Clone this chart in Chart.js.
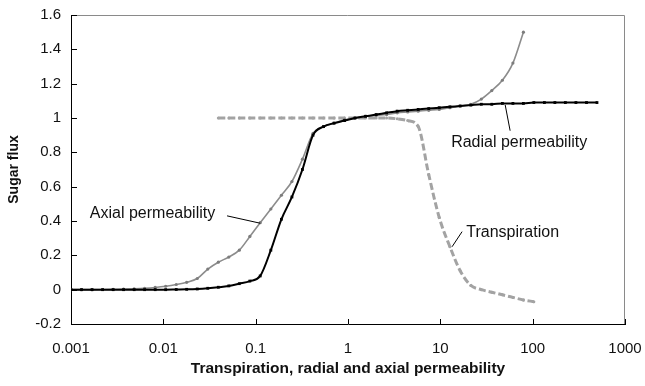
<!DOCTYPE html>
<html>
<head>
<meta charset="utf-8">
<script src="https://cdn.jsdelivr.net/npm/chart.js@4"></script>
<style>
  html, body { margin: 0; padding: 0; background: #fff; }
  #wrap { width: 645px; height: 386px; }
</style>
</head>
<body>
<div id="wrap"><canvas id="sugarChart"></canvas></div>
<script>
// eje x (escala logarítmica, pasos de ~1.3x)
const xGrid = [0.001, 0.0013, 0.00169, 0.0022, 0.00286, 0.00371, 0.00483, 0.00627, 0.00816, 0.0106,
    0.0138, 0.0179, 0.0233, 0.0303, 0.0394, 0.0512, 0.0665, 0.0865, 0.112, 0.146,
    0.19, 0.247, 0.321, 0.418, 0.543, 0.706, 0.917, 1.19, 1.55, 2.02,
    2.62, 3.41, 4.43, 5.76, 7.49, 9.73, 12.7, 16.4, 21.4, 27.8,
    36.1, 47.0, 61.1, 79.4, 103, 134, 174, 226, 294, 383, 497];

const radial = [0, 0, 0, 0, 0, 0, 0, 0, 0, 0,
    0.001, 0.002, 0.004, 0.008, 0.014, 0.022, 0.035, 0.05, 0.08, 0.23,
    0.41, 0.54, 0.70, 0.90, 0.95, 0.97, 0.985, 1.0, 1.01, 1.02,
    1.03, 1.04, 1.045, 1.05, 1.055, 1.06, 1.065, 1.07, 1.075, 1.08,
    1.08, 1.085, 1.085, 1.085, 1.09, 1.09, 1.09, 1.09, 1.09, 1.09, 1.09];

const axial = [0, 0, 0, 0.001, 0.002, 0.003, 0.005, 0.008, 0.013, 0.02,
    0.03, 0.043, 0.065, 0.12, 0.16, 0.19, 0.23, 0.31, 0.39, 0.47,
    0.55, 0.63, 0.76, 0.91, 0.95, 0.97, 0.99, 1.0, 1.01, 1.015,
    1.02, 1.03, 1.035, 1.04, 1.045, 1.05, 1.06, 1.07, 1.08, 1.11,
    1.16, 1.22, 1.32, 1.50];

const transX = [0.0394, 0.0512, 0.0665, 0.0865, 0.112, 0.146, 0.19, 0.247, 0.321, 0.418,
    0.543, 0.706, 0.917, 1.19, 1.55, 2.02, 2.62, 3.41, 4.43, 5.76,
    7.49, 9.73, 12.7, 16.4, 21.4, 27.8, 36.1, 47.0, 61.1, 79.4, 103];
const transpiration = [1, 1, 1, 1, 1, 1, 1, 1, 1, 1,
    1, 1, 1, 1, 1, 1, 1, 0.995, 0.985, 0.95,
    0.67, 0.42, 0.25, 0.11, 0.025, 0, -0.015, -0.03, -0.045, -0.06, -0.07];

const xTicks = [0.001, 0.01, 0.1, 1, 10, 100, 1000];
const xTickLabels = ["0.001", "0.01", "0.1", "1", "10", "100", "1000"];
const yTicks = [-0.2, 0, 0.2, 0.4, 0.6, 0.8, 1, 1.2, 1.4, 1.6];
const yTickLabels = ["-0.2", "0", "0.2", "0.4", "0.6", "0.8", "1", "1.2", "1.4", "1.6"];

// etiquetas de texto con su línea guía (en coordenadas de datos)
const noteTexts = ["Axial permeability", "Radial permeability", "Transpiration"];
const notePos = [[0.0016, 0.445], [13.1, 0.856], [19.1, 0.33]];
const noteLines = [
    [[0.049, 0.43], [0.112, 0.387]],
    [[50.4, 1.076], [57, 0.926]],
    [[17.2, 0.338], [13.4, 0.25]]
];

const FONT = "'Liberation Sans', Arial, sans-serif";

function pairs(xs, ys) {
    return ys.map((v, i) => ({ x: xs[i], y: v }));
}

const extras = {
    id: "extras",
    afterDraw(chart) {
        const { ctx, chartArea: a, scales: { x, y } } = chart;
        ctx.save();
        // marco superior y derecho
        ctx.strokeStyle = "#8a8a8a";
        ctx.lineWidth = 1;
        ctx.beginPath();
        ctx.moveTo(a.left, a.top + 0.5);
        ctx.lineTo(a.right - 0.5, a.top + 0.5);
        ctx.lineTo(a.right - 0.5, a.bottom);
        ctx.stroke();

        // marcas hacia dentro
        ctx.strokeStyle = "#000";
        ctx.beginPath();
        xTicks.forEach(v => {
            const px = Math.round(x.getPixelForValue(v)) + 0.5;
            ctx.moveTo(px, a.bottom);
            ctx.lineTo(px, a.bottom - 5);
        });
        yTicks.forEach(v => {
            const py = Math.round(y.getPixelForValue(v)) + 0.5;
            ctx.moveTo(a.left, py);
            ctx.lineTo(a.left + 6, py);
        });
        ctx.stroke();

        // notas
        ctx.fillStyle = "#111";
        ctx.font = "16px " + FONT;
        ctx.textBaseline = "middle";
        ctx.textAlign = "left";
        noteTexts.forEach((t, i) => {
            ctx.fillText(t, x.getPixelForValue(notePos[i][0]), y.getPixelForValue(notePos[i][1]));
        });
        ctx.lineWidth = 1;
        ctx.beginPath();
        noteLines.forEach(l => {
            ctx.moveTo(x.getPixelForValue(l[0][0]), y.getPixelForValue(l[0][1]));
            ctx.lineTo(x.getPixelForValue(l[1][0]), y.getPixelForValue(l[1][1]));
        });
        ctx.stroke();
        ctx.restore();
    }
};

const ctx = document.getElementById("sugarChart").getContext("2d");
new Chart(ctx, {
    type: "line",
    data: {
        datasets: [
            {
                label: "Radial permeability",
                data: pairs(xGrid, radial),
                borderColor: "#000",
                backgroundColor: "#000",
                borderWidth: 2,
                pointStyle: "rect",
                pointRadius: 2,
                pointBorderWidth: 0,
                cubicInterpolationMode: "monotone",
                fill: false
            },
            {
                label: "Axial permeability",
                data: pairs(xGrid, axial),
                borderColor: "#8c8c8c",
                backgroundColor: "#7d7d7d",
                borderWidth: 1.6,
                pointRadius: 1.6,
                pointBorderWidth: 0,
                cubicInterpolationMode: "monotone",
                fill: false
            },
            {
                label: "Transpiration",
                data: pairs(transX, transpiration),
                borderColor: "#a3a3a3",
                backgroundColor: "#a3a3a3",
                borderWidth: 3,
                borderDash: [7, 3],
                pointRadius: 1.5,
                pointBorderWidth: 0,
                cubicInterpolationMode: "monotone",
                fill: false
            }
        ]
    },
    options: {
        responsive: true,
        maintainAspectRatio: false,
        animation: false,
        layout: { padding: { top: 15, right: 20, left: 0, bottom: 0 } },
        plugins: {
            legend: { display: false },
            tooltip: { enabled: false }
        },
        scales: {
            x: {
                type: "logarithmic",
                min: 0.001,
                max: 1000,
                afterBuildTicks: s => { s.ticks = xTicks.map(v => ({ value: v })); },
                afterFit: s => { s.height = 62; s.paddingLeft = 0; s.paddingRight = 0; },
                grid: { display: false, drawTicks: false },
                border: { display: true, color: "#000", width: 1 },
                ticks: {
                    color: "#111",
                    font: { family: FONT, size: 15 },
                    padding: 16,
                    maxRotation: 0,
                    autoSkip: false,
                    callback: (v, i) => xTickLabels[i]
                },
                title: {
                    display: true,
                    text: "Transpiration, radial and axial permeability",
                    color: "#111",
                    font: { family: FONT, size: 15.5, weight: "bold" },
                    padding: { top: 0, bottom: 8 }
                }
            },
            y: {
                min: -0.2,
                max: 1.6,
                afterBuildTicks: s => { s.ticks = yTicks.map(v => ({ value: v })); },
                afterFit: s => { s.width = 71; s.paddingTop = 0; s.paddingBottom = 0; },
                grid: { display: false, drawTicks: false },
                border: { display: true, color: "#000", width: 1 },
                ticks: {
                    color: "#111",
                    font: { family: FONT, size: 15 },
                    padding: 10,
                    autoSkip: false,
                    callback: (v, i) => yTickLabels[i]
                },
                title: {
                    display: true,
                    text: "Sugar flux",
                    color: "#111",
                    font: { family: FONT, size: 14, weight: "bold" },
                    padding: { top: 6, bottom: 0 }
                }
            }
        }
    },
    plugins: [extras]
});
</script>
</body>
</html>
